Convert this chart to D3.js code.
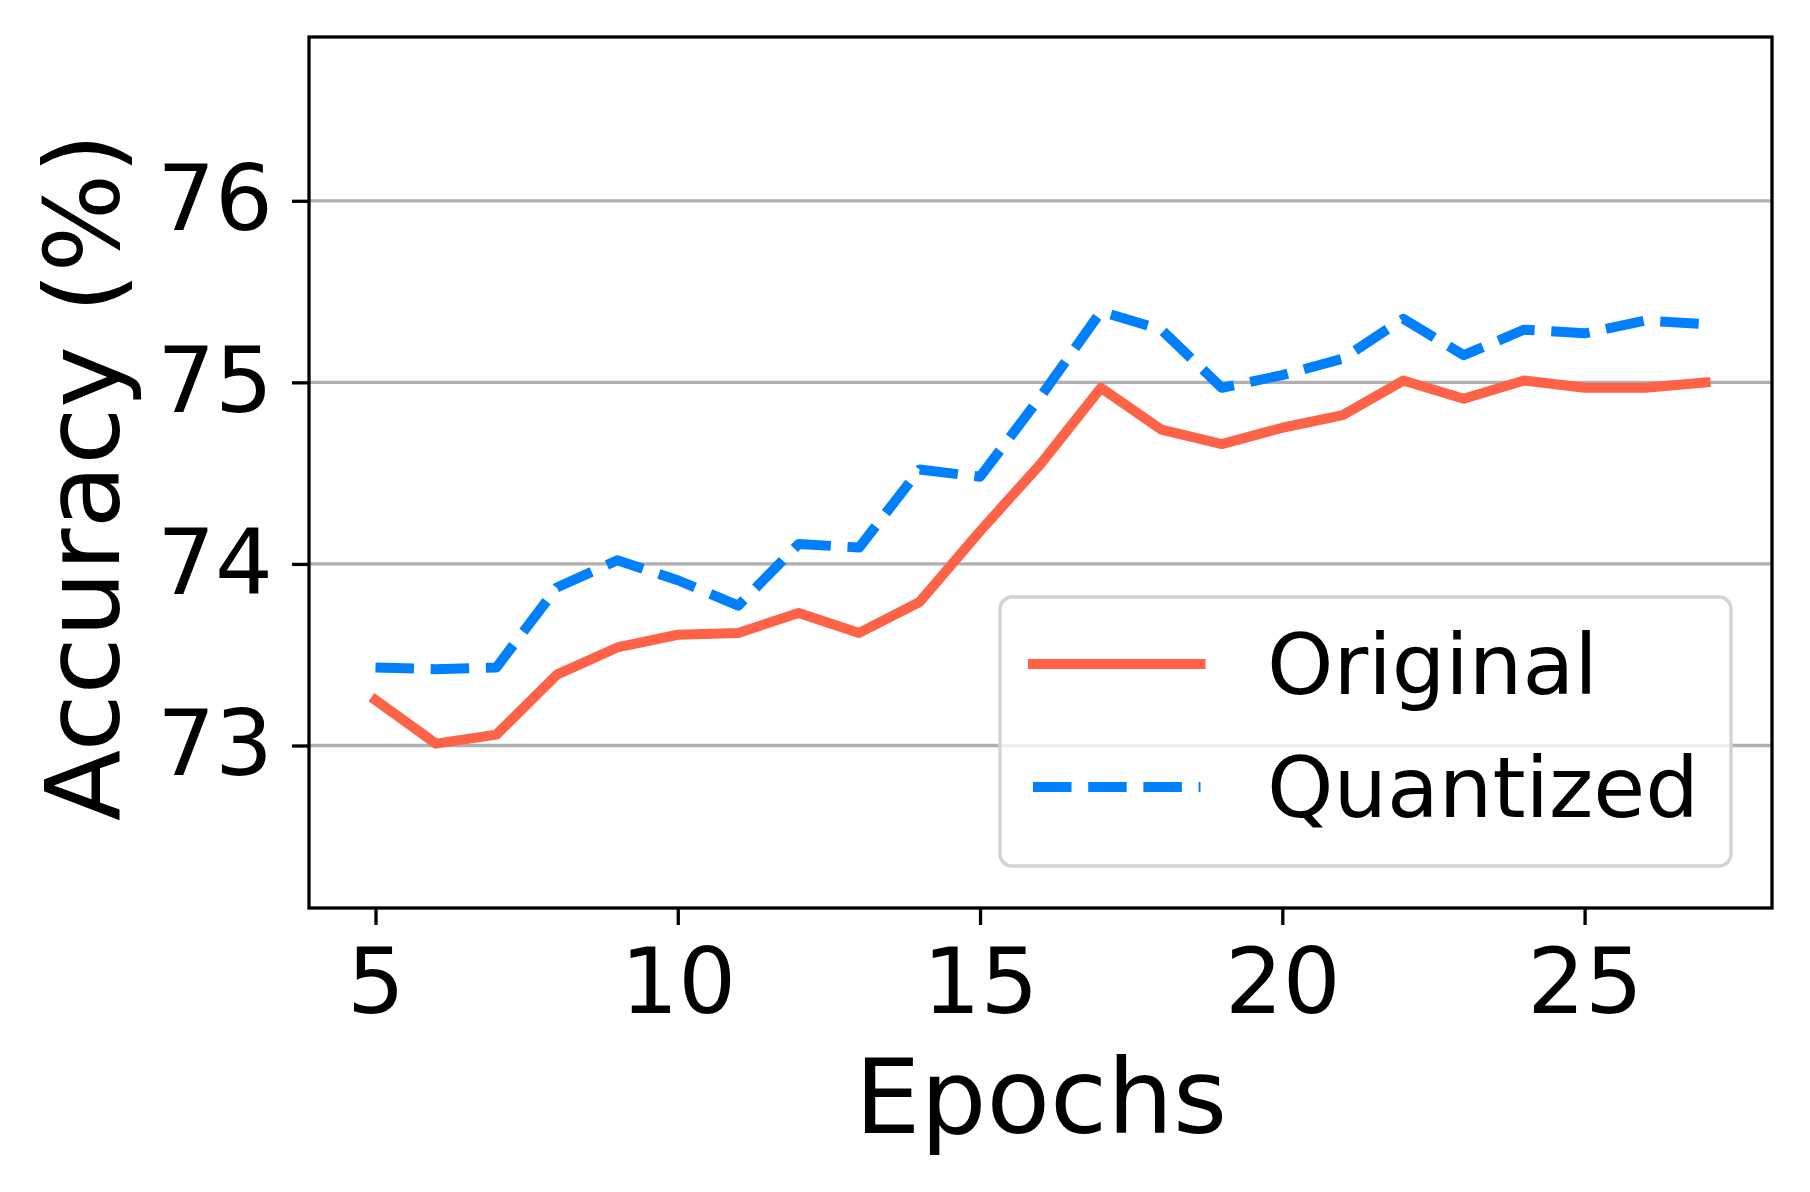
<!DOCTYPE html>
<html>
<head>
<meta charset="utf-8">
<script src="https://cdn.jsdelivr.net/npm/d3@7"></script>
<style>
  html, body { margin: 0; padding: 0; background: #ffffff; }
  svg { display: block; }
  text { font-family: "DejaVu Sans", sans-serif; fill: #000; }
</style>
</head>
<body>
<svg id="chart" width="1810" height="1192"></svg>
<script>
// ---- data ----
const epochs = [5,6,7,8,9,10,11,12,13,14,15,16,17,18,19,20,21,22,23,24,25,26,27];
const original = [73.25,73.01,73.06,73.39,73.54,73.61,73.62,73.73,73.62,73.79,74.18,74.55,74.97,74.74,74.66,74.75,74.82,75.01,74.91,75.01,74.97,74.97,75.00];
const quantized = [73.43,73.42,73.43,73.87,74.02,73.91,73.77,74.11,74.09,74.52,74.48,74.92,75.39,75.29,74.97,75.04,75.13,75.35,75.15,75.29,75.27,75.34,75.32];
const xTicks = [5,10,15,20,25];
const yTicks = [73,74,75,76];
const seriesNames = ["Original","Quantized"];
const xLabel = "Epochs";
const yLabel = "Accuracy (%)";

// ---- layout ----
const W = 1810, H = 1192;
const plot = {left: 309, right: 1772, top: 37, bottom: 908};
const svg = d3.select("#chart");
svg.append("rect").attr("width", W).attr("height", H).attr("fill", "#ffffff");

const x = d3.scaleLinear().domain([3.9, 28.1]).range([plot.left, plot.right]);
const y = d3.scaleLinear().domain([72.105, 76.902]).range([plot.bottom, plot.top]);

// grid (horizontal only)
svg.append("g").selectAll("line").data(yTicks).join("line")
  .attr("x1", plot.left).attr("x2", plot.right)
  .attr("y1", d => y(d)).attr("y2", d => y(d))
  .attr("stroke", "#b0b0b0").attr("stroke-width", 3.3);

// lines
const lineGen = vals => d3.line().x((d, i) => x(epochs[i])).y(d => y(d))(vals);
svg.append("path").attr("d", lineGen(original))
  .attr("fill", "none").attr("stroke", "#FF6347").attr("stroke-width", 10)
  .attr("stroke-linejoin", "round").attr("stroke-linecap", "square");
svg.append("path").attr("d", lineGen(quantized))
  .attr("fill", "none").attr("stroke", "#007FFF").attr("stroke-width", 10)
  .attr("stroke-linejoin", "round").attr("stroke-linecap", "butt")
  .attr("stroke-dasharray", "38.5,16.7");

// axes
const xAxis = d3.axisBottom(x).tickValues(xTicks).tickFormat(d3.format("d")).tickSize(17).tickPadding(23);
const yAxis = d3.axisLeft(y).tickValues(yTicks).tickFormat(d3.format("d")).tickSize(17).tickPadding(19);
const gx = svg.append("g").attr("transform", `translate(0,${plot.bottom})`).call(xAxis);
const gy = svg.append("g").attr("transform", `translate(${plot.left},0)`).call(yAxis);
[gx, gy].forEach(g => {
  g.select(".domain").remove();
  g.selectAll(".tick line").attr("stroke", "#000").attr("stroke-width", 3.3);
  g.selectAll(".tick text").attr("font-family", "DejaVu Sans").attr("font-size", 91).attr("fill", "#000");
});

// frame
svg.append("rect")
  .attr("x", plot.left).attr("y", plot.top)
  .attr("width", plot.right - plot.left).attr("height", plot.bottom - plot.top)
  .attr("fill", "none").attr("stroke", "#000").attr("stroke-width", 3.3);

// axis labels
svg.append("text").attr("x", 1041).attr("y", 1133)
  .attr("text-anchor", "middle").attr("font-size", 104).text(xLabel);
svg.append("text").attr("transform", "translate(119,477) rotate(-90)")
  .attr("text-anchor", "middle").attr("font-size", 104).text(yLabel);

// legend
const lg = svg.append("g");
lg.append("rect").attr("x", 1000).attr("y", 597).attr("width", 731).attr("height", 269)
  .attr("rx", 12).attr("ry", 12)
  .attr("fill", "#ffffff").attr("fill-opacity", 0.8)
  .attr("stroke", "#d3d3d3").attr("stroke-width", 3.3);
const legendItems = [
  {name: seriesNames[0], color: "#FF6347", dash: null, cap: "square", y: 664},
  {name: seriesNames[1], color: "#007FFF", dash: "38.5,16.7", cap: "butt", y: 787}
];
legendItems.forEach(it => {
  const l = lg.append("line").attr("x1", 1033).attr("x2", 1200.5)
    .attr("y1", it.y).attr("y2", it.y)
    .attr("stroke", it.color).attr("stroke-width", 10).attr("stroke-linecap", it.cap);
  if (it.dash) l.attr("stroke-dasharray", it.dash);
  lg.append("text").attr("x", 1267).attr("y", it.y + 30)
    .attr("font-size", 84.5).text(it.name);
});
</script>
</body>
</html>
